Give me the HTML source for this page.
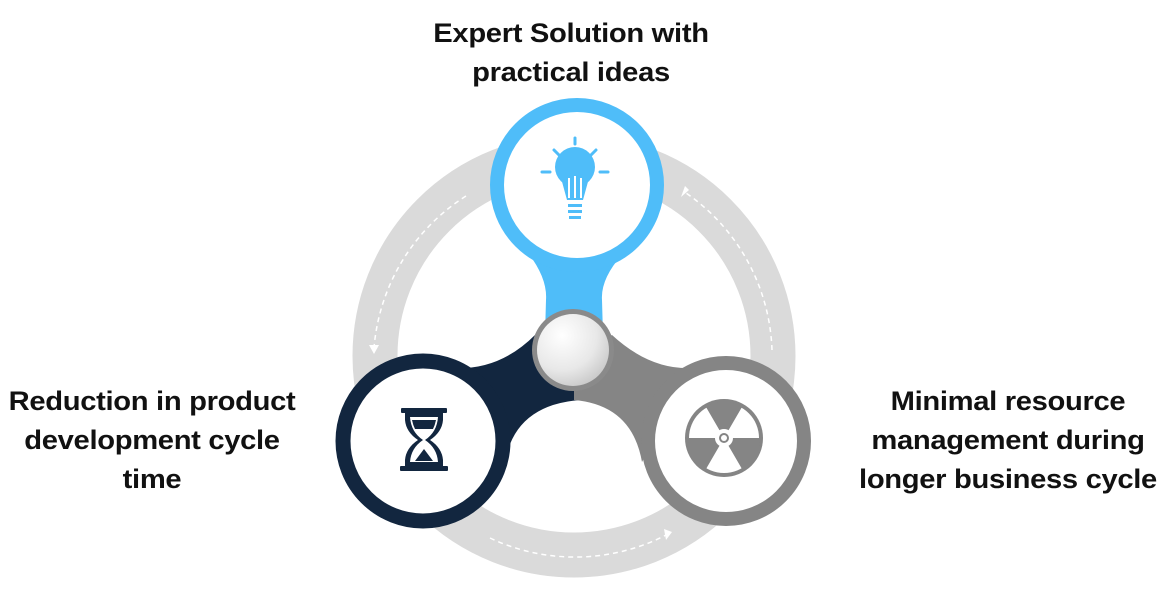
<!DOCTYPE html>
<html><head><meta charset="utf-8"><style>
html,body{margin:0;padding:0;background:#fff;}
body{width:1167px;height:593px;overflow:hidden;position:relative;font-family:"Liberation Sans",sans-serif;}
.t{position:absolute;font-weight:bold;font-size:27px;line-height:39px;color:#111;text-align:center;letter-spacing:-0.3px;white-space:nowrap;transform:scaleX(1.08);}
</style></head><body>
<svg width="1167" height="593" style="position:absolute;left:0;top:0">
<defs>
<radialGradient id="hub" cx="0.35" cy="0.3" r="0.8">
<stop offset="0" stop-color="#fff"/><stop offset="0.6" stop-color="#e8e8e8"/><stop offset="1" stop-color="#c4c4c4"/>
</radialGradient>
</defs>
<circle cx="574" cy="356" r="199" fill="none" stroke="#dadada" stroke-width="45"/>
<g fill="none" stroke="#fff" stroke-width="1.5" stroke-dasharray="5,4">
<path d="M466,196 A199,199 0 0 0 374,348"/>
<path d="M772,350 A199,199 0 0 0 686,193"/>
<path d="M490,538 A199,199 0 0 0 668,534"/>
</g>
<g fill="#fff">
<polygon points="369,345 379,345 374,354"/>
<polygon points="681,197 689,190 685,186" />
<polygon points="664,529 672,532 666,540"/>
</g>
<path d="M515,238 Q548,272 546,300 L545,335 L603,335 L602,300 Q600,272 639,238 Z" fill="#4fbdf9"/>
<path d="M455,368 Q500,370 535,335 L580,355 L580,400 Q515,405 505,462 Z" fill="#12263f"/>
<path d="M692,368 Q650,370 612,335 L574,355 L574,400 Q632,405 642,462 Z" fill="#858585"/>
<circle cx="577" cy="185" r="80" fill="#fff" stroke="#4fbdf9" stroke-width="14"/>
<circle cx="423" cy="441" r="80" fill="#fff" stroke="#12263f" stroke-width="15"/>
<circle cx="726" cy="441" r="78" fill="#fff" stroke="#858585" stroke-width="14"/>
<circle cx="573" cy="350" r="41" fill="#8a8a8a"/>
<circle cx="573" cy="350" r="36" fill="url(#hub)"/>
<g fill="#4fbdf9" stroke="#4fbdf9">
<circle cx="575" cy="167" r="20" stroke="none"/>
<path d="M561,178 L567,200 L583,200 L589,178 Z" stroke="none"/>
<rect x="568" y="204" width="14" height="3" stroke="none"/>
<rect x="568" y="210" width="14" height="3" stroke="none"/>
<rect x="569" y="216" width="12" height="3" stroke="none"/>
<g stroke-width="3" stroke-linecap="round">
<line x1="575" y1="138" x2="575" y2="144"/>
<line x1="542" y1="172" x2="550" y2="172"/>
<line x1="600" y1="172" x2="608" y2="172"/>
<line x1="554" y1="150" x2="559" y2="155"/>
<line x1="596" y1="150" x2="591" y2="155"/>
</g>
</g>
<path d="M569,178 L569,198 M575,176 L575,198 M581,178 L581,198" stroke="#fff" stroke-width="2"/>
<g fill="#12263f">
<rect x="401" y="408" width="46" height="5" rx="1"/>
<rect x="400" y="466" width="48" height="5" rx="1"/>
<path d="M405,413 L443,413 L443,420 Q442,432 430,440 Q442,448 443,460 L443,466 L405,466 L405,460 Q406,448 418,440 Q406,432 405,420 Z"/>
</g>
<path d="M410,417 L438,417 Q437,432 425,440 Q437,448 438,462 L410,462 Q411,448 423,440 Q411,432 410,417 Z" fill="#fff"/>
<path d="M412,420 L436,420 Q435,425 433,429 L415,429 Q413,425 412,420 Z M424,449 L433,461 L415,461 Z" fill="#12263f"/>
<circle cx="724" cy="438" r="39" fill="#858585"/>
<circle cx="724" cy="438" r="35" fill="#fff"/>
<g fill="#858585">
<path d="M724,438 L706,407 A36,36 0 0 1 742,407 Z"/>
<path d="M724,438 L760,438 A36,36 0 0 1 742,469 Z"/>
<path d="M724,438 L706,469 A36,36 0 0 1 688,438 Z"/>
</g>
<circle cx="724" cy="438" r="9" fill="#fff"/>
<circle cx="724" cy="438" r="5" fill="#858585"/>
<circle cx="724" cy="438" r="3" fill="#fff"/>
</svg>
<div class="t" style="left:371px;top:14px;width:400px;">Expert Solution with<br>practical ideas</div>
<div class="t" style="left:-48px;top:382px;width:400px;">Reduction in product<br>development cycle<br>time</div>
<div class="t" style="left:808px;top:382px;width:400px;">Minimal resource<br>management during<br>longer business cycle</div>
</body></html>
